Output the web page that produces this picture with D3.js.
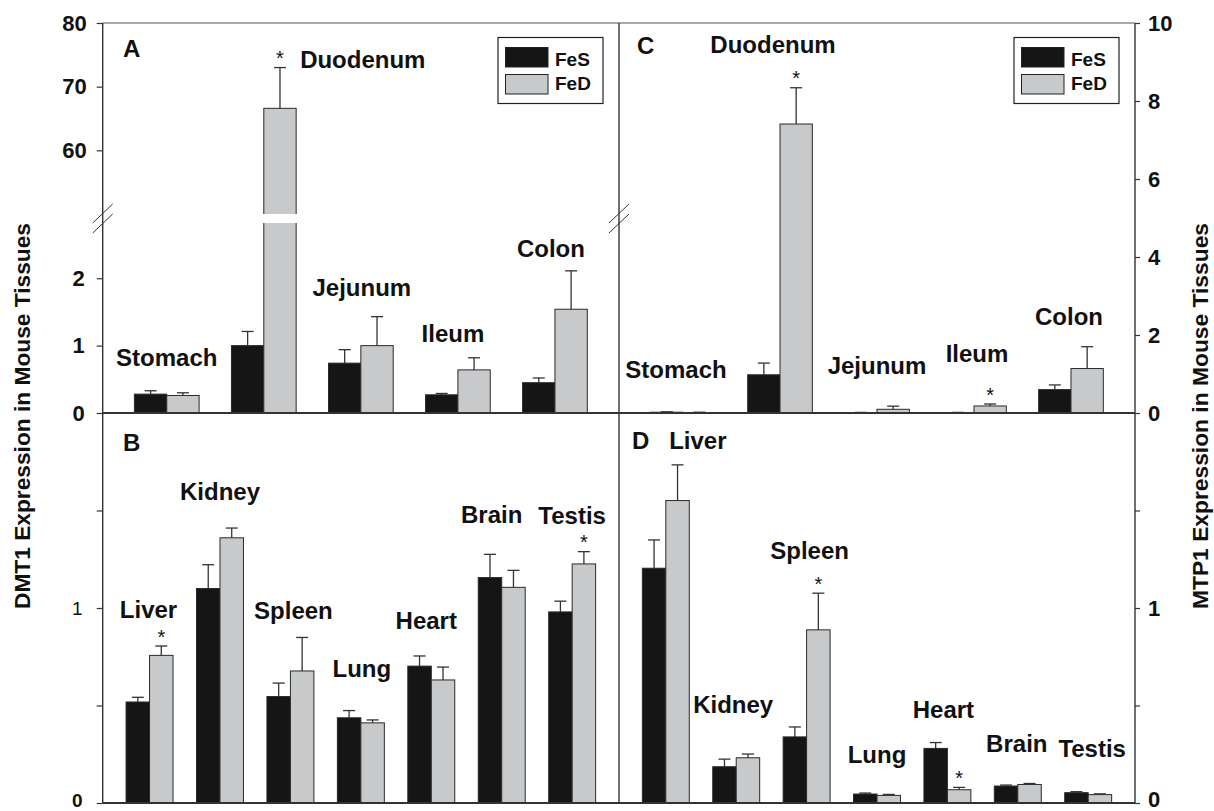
<!DOCTYPE html>
<html>
<head>
<meta charset="utf-8">
<script src="https://cdn.jsdelivr.net/npm/d3@7/dist/d3.min.js"></script>
<style>
  body { margin: 0; background: #fff; }
  svg text { font-family: "Liberation Sans", Arial, Helvetica, sans-serif; font-weight: bold; fill: #111; }
</style>
</head>
<body>
<svg id="chart" width="1214" height="811"></svg>
<script>
// ---- data ----
var gutTissues = ['Stomach', 'Duodenum', 'Jejunum', 'Ileum', 'Colon'];
var organTissues = ['Liver', 'Kidney', 'Spleen', 'Lung', 'Heart', 'Brain', 'Testis'];
var groups = ['FeS', 'FeD'];

// A: DMT1, gut
var dmt1GutFeS = [0.28, 1.00, 0.74, 0.27, 0.45];
var dmt1GutFeSErr = [0.05, 0.21, 0.20, 0.02, 0.07];
var dmt1GutFeD = [0.26, 66.6, 1.00, 0.64, 1.54];
var dmt1GutFeDErr = [0.04, 6.4, 0.43, 0.18, 0.57];
var dmt1GutSig = [0, 1, 0, 0, 0];

// C: MTP1, gut
var mtp1GutFeS = [0.02, 0.98, 0.01, 0.01, 0.60];
var mtp1GutFeSErr = [0.01, 0.30, 0.005, 0.005, 0.12];
var mtp1GutFeD = [0.01, 7.41, 0.095, 0.18, 1.14];
var mtp1GutFeDErr = [0.01, 0.93, 0.08, 0.05, 0.56];
var mtp1GutSig = [0, 1, 0, 1, 0];

// B: DMT1, organs
var dmt1OrgFeS = [0.518, 1.10, 0.546, 0.437, 0.702, 1.156, 0.98];
var dmt1OrgFeSErr = [0.024, 0.122, 0.069, 0.037, 0.052, 0.119, 0.055];
var dmt1OrgFeD = [0.757, 1.36, 0.677, 0.411, 0.631, 1.106, 1.226];
var dmt1OrgFeDErr = [0.048, 0.05, 0.172, 0.015, 0.066, 0.087, 0.063];
var dmt1OrgSig = [1, 0, 0, 0, 0, 0, 1];

// D: MTP1, organs
var mtp1OrgFeS = [1.204, 0.186, 0.339, 0.046, 0.28, 0.087, 0.053];
var mtp1OrgFeSErr = [0.145, 0.039, 0.051, 0.005, 0.03, 0.005, 0.005];
var mtp1OrgFeD = [1.551, 0.232, 0.888, 0.039, 0.068, 0.095, 0.043];
var mtp1OrgFeDErr = [0.183, 0.019, 0.188, 0.005, 0.012, 0.005, 0.004];
var mtp1OrgSig = [0, 0, 1, 0, 1, 0, 0];

// axis ticks
var ticksAUpper = [60, 70, 80];
var ticksALower = [0, 1, 2];
var ticksC = [0, 2, 4, 6, 8, 10];
var ticksOrg = [0, 0.5, 1, 1.5];

// where the tissue names sit: [dx from group centre (px), height in axis units]
var labelsA = [[0, 0.70], [99, 72.9], [1, 1.73], [-5, 1.06], [-4, 2.32]];
var labelsC = [[-7, 0.905], [-7, 9.22], [0, 1.0], [3, 1.315], [-2, 2.256]];
var labelsB = [[-1, 0.947], [0, 1.554], [3, 0.944], [1, 0.648], [-5, 0.891], [-10, 1.434], [0, 1.431]];
var labelsD = [[32, 1.815], [-3, 0.46], [3, 1.25], [0, 0.207], [-4, 0.434], [-1, 0.26], [4, 0.234]];

// ---- layout ----
var svg = d3.select('#chart');
var L = 102.7, M = 619, R = 1135, TOP = 23, MID = 413, BOT = 803;
var colors = {FeS: '#151515', FeD: '#c8c9cb'};

var xA = d3.scalePoint().domain(gutTissues).range([L, M]).padding(0.66);
var xC = d3.scalePoint().domain(gutTissues).range([M, R]).padding(0.66);
var xB = d3.scalePoint().domain(organTissues).range([L, M]).padding(0.665);
var xD = d3.scalePoint().domain(organTissues).range([M, R]).padding(0.665);

// panel A has a broken axis
var yAup = d3.scaleLinear().domain([50, 80]).range([214, TOP]);
var yAlo = d3.scaleLinear().domain([0, 2.82]).range([MID, 223]);
var yA = function (v) { return v > 2.82 ? yAup(v) : yAlo(v); };
var yC = d3.scaleLinear().domain([0, 10]).range([MID, TOP]);
var yB = d3.scaleLinear().domain([0, 2]).range([BOT, MID]);
var yD = d3.scaleLinear().domain([0, 2]).range([BOT, MID]);

function drawPanel(p) {
    var g = svg.append('g').attr('class', 'panel');
    var bw = p.x.step() / 3;
    var rows = p.x.domain().map(function (t, i) {
        return {t: t, i: i, FeS: p.fes[i], FeSErr: p.fesErr[i], FeD: p.fed[i], FeDErr: p.fedErr[i], sig: p.sig[i]};
    });

    groups.forEach(function (s, k) {
        var x0 = function (d) { return p.x(d.t) - bw + k * bw; };
        g.selectAll('rect.bar-' + s).data(rows).enter().append('rect')
            .attr('class', 'bar-' + s)
            .attr('x', x0)
            .attr('y', function (d) { return p.y(d[s]); })
            .attr('width', bw)
            .attr('height', function (d) { return p.y(0) - p.y(d[s]); })
            .attr('fill', colors[s]).attr('stroke', '#2a2a2a').attr('stroke-width', 1);

        var eb = g.selectAll('g.err-' + s).data(rows).enter().append('g').attr('class', 'err-' + s);
        eb.append('line')
            .attr('x1', function (d) { return x0(d) + bw / 2; })
            .attr('x2', function (d) { return x0(d) + bw / 2; })
            .attr('y1', function (d) { return p.y(d[s]); })
            .attr('y2', function (d) { return p.y(d[s] + d[s + 'Err']); });
        eb.append('line')
            .attr('x1', function (d) { return x0(d) + bw / 2 - 6; })
            .attr('x2', function (d) { return x0(d) + bw / 2 + 6; })
            .attr('y1', function (d) { return p.y(d[s] + d[s + 'Err']); })
            .attr('y2', function (d) { return p.y(d[s] + d[s + 'Err']); });
        eb.selectAll('line').attr('stroke', '#333').attr('stroke-width', 1.3);
    });

    // significance stars above FeD
    g.selectAll('text.star').data(rows.filter(function (d) { return d.sig; })).enter().append('text')
        .attr('class', 'star')
        .attr('x', function (d) { return p.x(d.t) + bw / 2; })
        .attr('y', function (d) { return p.y(d.FeD + d.FeDErr) - 2.5; })
        .attr('text-anchor', 'middle').style('font-size', '20px').style('font-weight', 'normal')
        .text('*');

    // tissue names
    g.selectAll('text.tissue').data(rows).enter().append('text')
        .attr('class', 'tissue')
        .attr('x', function (d) { return p.x(d.t) + p.labels[d.i][0]; })
        .attr('y', function (d) { return p.y(p.labels[d.i][1]); })
        .attr('text-anchor', 'middle').style('font-size', '24px')
        .text(function (d) { return d.t; });

    g.append('text').attr('x', p.letter[1]).attr('y', p.letter[2])
        .style('font-size', '24px').text(p.letter[0]);
    return {g: g, bw: bw};
}

var pA = drawPanel({x: xA, y: yA, fes: dmt1GutFeS, fesErr: dmt1GutFeSErr, fed: dmt1GutFeD, fedErr: dmt1GutFeDErr,
    sig: dmt1GutSig, labels: labelsA, letter: ['A', 123, 57]});
drawPanel({x: xC, y: yC, fes: mtp1GutFeS, fesErr: mtp1GutFeSErr, fed: mtp1GutFeD, fedErr: mtp1GutFeDErr,
    sig: mtp1GutSig, labels: labelsC, letter: ['C', 637, 54]});
drawPanel({x: xB, y: yB, fes: dmt1OrgFeS, fesErr: dmt1OrgFeSErr, fed: dmt1OrgFeD, fedErr: dmt1OrgFeDErr,
    sig: dmt1OrgSig, labels: labelsB, letter: ['B', 123, 451]});
drawPanel({x: xD, y: yD, fes: mtp1OrgFeS, fesErr: mtp1OrgFeSErr, fed: mtp1OrgFeD, fedErr: mtp1OrgFeDErr,
    sig: mtp1OrgSig, labels: labelsD, letter: ['D', 632, 449]});

// white cut through the tall duodenum bar
pA.g.append('rect')
    .attr('x', xA('Duodenum') - 1).attr('width', pA.bw + 2)
    .attr('y', yAup(50)).attr('height', yAlo(2.82) - yAup(50))
    .attr('fill', '#fff');

// ---- frame ----
var frame = svg.append('g').attr('stroke', '#333').attr('fill', 'none');
frame.append('line').attr('x1', L).attr('x2', R).attr('y1', TOP).attr('y2', TOP).attr('stroke', '#555').attr('stroke-width', 1.2);
frame.append('line').attr('x1', L).attr('x2', R).attr('y1', MID).attr('y2', MID).attr('stroke-width', 2);
frame.append('line').attr('x1', L).attr('x2', R).attr('y1', BOT).attr('y2', BOT).attr('stroke-width', 2.2);
[L, M, R].forEach(function (xx) {
    frame.append('line').attr('x1', xx).attr('x2', xx).attr('y1', TOP).attr('y2', BOT).attr('stroke-width', 1.4);
});
// break marks
[L, M].forEach(function (xx) {
    [0, 10].forEach(function (off) {
        frame.append('line')
            .attr('x1', xx - 10).attr('y1', 223 + off)
            .attr('x2', xx + 10).attr('y2', 204 + off)
            .attr('stroke-width', 1);
    });
});

// ---- axes ----
function styleAxis(sel, size) {
    sel.select('.domain').remove();
    sel.selectAll('.tick line').attr('stroke', '#333').attr('stroke-width', 1.2);
    sel.selectAll('.tick text').style('font-size', size + 'px').attr('fill', '#111');
}
var intFormat = d3.format('d');
var orgFormat = function (d) { return (d === 0 || d === 1) ? intFormat(d) : ''; };

svg.append('g').attr('transform', 'translate(' + L + ',0)')
    .call(d3.axisLeft(yAup).tickValues(ticksAUpper).tickFormat(intFormat).tickSize(6).tickPadding(10))
    .call(styleAxis, 22);
svg.append('g').attr('transform', 'translate(' + L + ',0)')
    .call(d3.axisLeft(yAlo).tickValues(ticksALower).tickFormat(intFormat).tickSize(6).tickPadding(12))
    .call(styleAxis, 22);
var axB = svg.append('g').attr('transform', 'translate(' + L + ',0)')
    .call(d3.axisLeft(yB).tickValues(ticksOrg).tickFormat(orgFormat).tickSize(6).tickPadding(14))
    .call(styleAxis, 19);
axB.selectAll('.tick text').filter(function (d) { return d === 1; }).style('font-weight', 'normal');
axB.selectAll('.tick text').filter(function (d) { return d === 0; }).attr('dy', '0.2em');
var axD = svg.append('g').attr('transform', 'translate(' + R + ',0)')
    .call(d3.axisRight(yD).tickValues(ticksOrg).tickFormat(orgFormat).tickSize(5).tickPadding(8))
    .call(styleAxis, 22);
axD.selectAll('.tick text').filter(function (d) { return d === 0; }).attr('dy', '0.15em');
svg.append('g').attr('transform', 'translate(' + R + ',0)')
    .call(d3.axisRight(yC).tickValues(ticksC).tickFormat(intFormat).tickSize(5).tickPadding(8))
    .call(styleAxis, 22);

// ---- legends ----
function legend(right) {
    var g = svg.append('g').attr('transform', 'translate(' + (right - 105) + ',37.5)');
    g.append('rect').attr('width', 105).attr('height', 66).attr('fill', '#fff').attr('stroke', '#222').attr('stroke-width', 1.2);
    groups.forEach(function (s, i) {
        g.append('rect').attr('x', 7.5).attr('y', 10 + i * 27).attr('width', 42.5).attr('height', 19.5)
            .attr('fill', colors[s]).attr('stroke', '#222').attr('stroke-width', 1);
        g.append('text').attr('x', 57).attr('y', 28 + i * 24.5).style('font-size', '19px').text(s);
    });
}
legend(M - 16);
legend(R - 16);

// ---- axis titles ----
svg.append('text').attr('transform', 'translate(30,416) rotate(-90)')
    .attr('text-anchor', 'middle').attr('textLength', 386).attr('lengthAdjust', 'spacingAndGlyphs')
    .style('font-size', '22px').text('DMT1 Expression in Mouse Tissues');
svg.append('text').attr('transform', 'translate(1208,416) rotate(-90)')
    .attr('text-anchor', 'middle').attr('textLength', 386).attr('lengthAdjust', 'spacingAndGlyphs')
    .style('font-size', '22px').text('MTP1 Expression in Mouse Tissues');
</script>
</body>
</html>
